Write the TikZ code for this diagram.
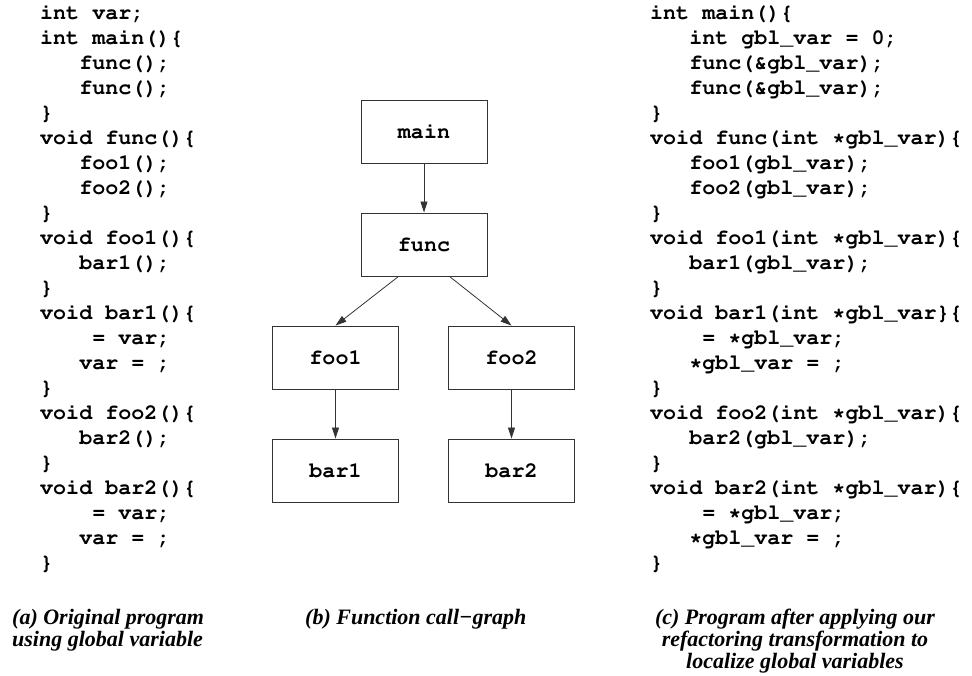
\documentclass[tikz,border=0pt]{standalone}
\usepackage[T1]{fontenc}
\usepackage{fontspec}
\setmainfont{Liberation Serif}
\setmonofont{Liberation Mono}
\usetikzlibrary{arrows.meta}
\tikzset{>={Triangle[width=7pt,length=11pt]}}
\newcommand\codefont{\fontencoding{T1}\fontfamily{pcr}\fontseries{b}\fontsize{21.7}{25}\selectfont}

\begin{document}
\begin{tikzpicture}[x=1pt,y=-1pt]
\tikzstyle{code}=[anchor=base west,align=left,inner sep=0,font=\codefont]
\tikzstyle{fn}=[draw=black!80,line width=0.9pt,minimum width=126pt,minimum height=63pt,inner sep=0,font=\codefont]
\tikzstyle{call}=[draw=black!80,line width=0.8pt]
\tikzstyle{subcap}=[anchor=base,align=center,inner sep=0,font=\bfseries\itshape\fontsize{22}{22}\selectfont]

    \useasboundingbox (0,0) rectangle (972,676);

    % (a) original program
    \node[code] (orig) at (40,569) {int var;\\
    int main()\{\\
    ~~~func();\\
    ~~~func();\\
    \}\\
    void func()\{\\
    ~~~foo1();\\
    ~~~foo2();\\
    \}\\
    void foo1()\{\\
    ~~~bar1();\\
    \}\\
    void bar1()\{\\
    ~~~~= var;\\
    ~~~var = ;\\
    \}\\
    void foo2()\{\\
    ~~~bar2();\\
    \}\\
    void bar2()\{\\
    ~~~~= var;\\
    ~~~var = ;\\
    \}};

    % (b) call graph
    \node[fn] (main) at (424,131.5) {main};
    \node[fn] (func) at (424,244.5) {func};
    \node[fn] (foo1) at (335.5,357.5) {foo1};
    \node[fn] (foo2) at (511.5,357.5) {foo2};
    \node[fn] (bar1) at (335.5,470.5) {bar1};
    \node[fn] (bar2) at (511.5,470.5) {bar2};

    \draw[call,->] (main) -- (func);
    \draw[call,->] ([xshift=-25.5pt]func.south) -- (foo1.north);
    \draw[call,->] ([xshift=25.5pt]func.south) -- (foo2.north);
    \draw[call,->] (foo1) -- (bar1);
    \draw[call,->] (foo2) -- (bar2);

    % (c) refactored program
    \node[code] (refac) at (650,569) {int main()\{\\
    ~~~int gbl\_var = 0;\\
    ~~~func(\&gbl\_var);\\
    ~~~func(\&gbl\_var);\\
    \}\\
    void func(int *gbl\_var)\{\\
    ~~~foo1(gbl\_var);\\
    ~~~foo2(gbl\_var);\\
    \}\\
    void foo1(int *gbl\_var)\{\\
    ~~~bar1(gbl\_var);\\
    \}\\
    void bar1(int *gbl\_var\}\{\\
    ~~~~= *gbl\_var;\\
    ~~~*gbl\_var = ;\\
    \}\\
    void foo2(int *gbl\_var)\{\\
    ~~~bar2(gbl\_var);\\
    \}\\
    void bar2(int *gbl\_var)\{\\
    ~~~~= *gbl\_var;\\
    ~~~*gbl\_var = ;\\
    \}};

    % captions
    \node[subcap,anchor=base west,align=left] (capa) at (12,646) {(a) Original program\\using global variable};
    \node[subcap,anchor=base west] (capb) at (305,624) {(b) Function call−graph};
    \node[subcap] (capc) at (795,668) {(c) Program after applying our\\refactoring transformation to\\localize global variables};

\end{tikzpicture}
\end{document}
